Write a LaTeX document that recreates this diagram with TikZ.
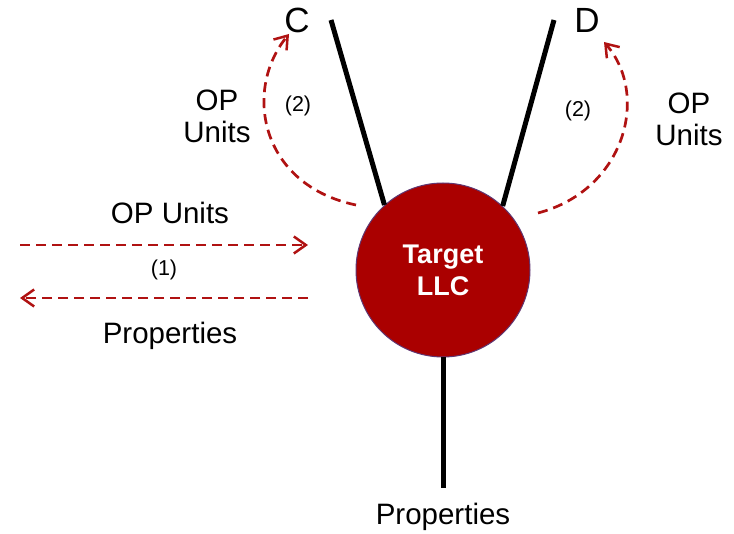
\documentclass[tikz,border=0pt]{standalone}
\usepackage{fontspec}
\setmainfont{Liberation Sans}
\usetikzlibrary{arrows.meta}
\definecolor{llcred}{RGB}{170,0,0}
\definecolor{flowred}{RGB}{176,18,18}
\definecolor{rimpurple}{RGB}{95,55,115}
\begin{document}
\begin{tikzpicture}[x=1pt,y=-1pt,
  leg/.style={line width=5pt,black},
  flow/.style={line width=2.7pt,flowred,dash pattern=on 10pt off 6pt,
    -{Straight Barb[length=12pt,width=17pt,line width=2.5pt]}},
  lbl/.style={font=\fontsize{29.5}{32}\selectfont,align=center,inner sep=0pt},
  tag/.style={font=\fontsize{21.5}{24}\selectfont,inner sep=0pt},
  ends/.style={font=\fontsize{35}{38}\selectfont,inner sep=0pt}]
\useasboundingbox (0,0) rectangle (734,534);

% the company
\node[circle,fill=llcred,draw=rimpurple,line width=1pt,minimum size=174pt,
  font=\fontsize{27}{32}\selectfont\bfseries,text=white,align=center]
  (llc) at (443,270) {Target\\LLC};

% ownership legs
\coordinate (ctop) at (331,20);
\coordinate (dtop) at (554,20);
\coordinate (pbot) at (443,488);
\draw[leg] (ctop) -- (llc.132);
\draw[leg] (dtop) -- (llc.47);
\draw[leg] (llc.south) -- (pbot);

\node[ends] (c) at (297,20) {C};
\node[ends] (d) at (587,20) {D};
\node[lbl] (pbottom) at (443,517) {Properties};

% exchange (1)
\coordinate (inL) at (20,245);
\coordinate (inR) at (308,245);
\coordinate (outR) at (308,298);
\coordinate (outL) at (20,298);
\draw[flow] (inL) -- (inR);
\draw[flow] (outR) -- (outL);
\node[lbl] (opu) at (170,213) {OP Units};
\node[tag] (one) at (164,270) {(1)};
\node[lbl] (props) at (170,336) {Properties};

% distributions (2)
\coordinate (lstart) at (356,205);
\coordinate (ltip) at (289,34);
\coordinate (rstart) at (538,213);
\coordinate (rtip) at (604,42);
\draw[flow] (lstart) .. controls (260,185) and (243,90) .. (ltip);
\draw[flow] (rstart) .. controls (625,190) and (650,95) .. (rtip);
\node[tag] (twoL) at (298,106) {(2)};
\node[tag] (twoR) at (578,111) {(2)};
\node[lbl] (opuL) at (217,116) {OP\\Units};
\node[lbl] (opuR) at (689,119) {OP\\Units};
\end{tikzpicture}
\end{document}
